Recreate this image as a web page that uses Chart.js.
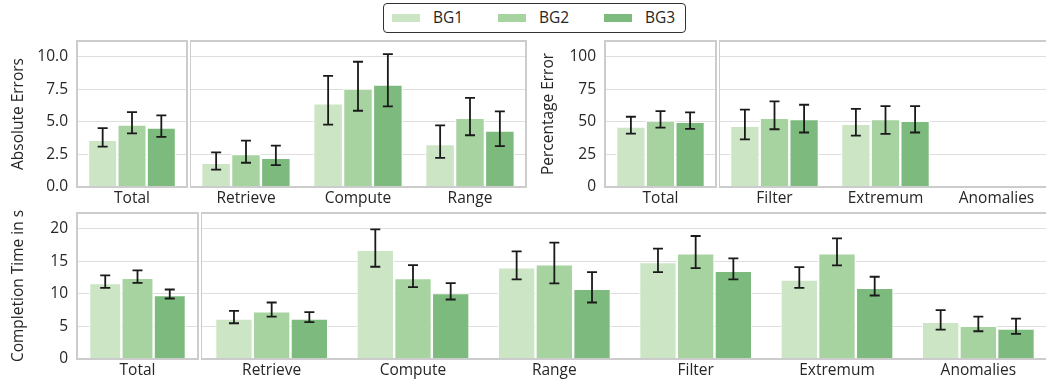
<!DOCTYPE html>
<html><head><meta charset="utf-8">
<script src="https://cdn.jsdelivr.net/npm/chart.js@4"></script>
<style>
body{margin:0;background:#fff;}
#wrap{position:relative;width:1046px;height:381px;overflow:hidden;font-family:"Open Sans",sans-serif;color:#262626;}
canvas{position:absolute;}
#legend{position:absolute;left:383px;top:3px;width:301px;height:28px;border:1px solid #333;border-radius:4px;}
.sw{position:absolute;top:10px;width:28px;height:8px;}
.lt{position:absolute;top:2px;font-size:15.5px;line-height:22px;color:#262626;}
</style></head>
<body><div id="wrap">
<div id="legend"></div>
</div>
<script>
// ---------- data ----------
const seriesNames = ['BG1', 'BG2', 'BG3'];
const seriesColors = ['#cbe5c5', '#a6d39f', '#7dba7d'];

// Absolute Errors
const absTicks = [0, 2.5, 5, 7.5, 10];
const absTotalMean = [3.63, 4.79, 4.56];
const absTotalLow  = [3.09, 4.12, 3.84];
const absTotalHigh = [4.51, 5.75, 5.49];
const absTasks = ['Retrieve', 'Compute', 'Range'];
const absBG1 = [1.86, 6.42, 3.30], absBG1Low = [1.34, 4.79, 2.24], absBG1High = [2.65, 8.53, 4.72];
const absBG2 = [2.53, 7.55, 5.31], absBG2Low = [1.86, 5.85, 3.97], absBG2High = [3.56, 9.61, 6.83];
const absBG3 = [2.24, 7.86, 4.33], absBG3Low = [1.68, 6.19, 3.14], absBG3High = [3.17, 10.2, 5.80];

// Percentage Error
const pctTicks = [0, 25, 50, 75, 100];
const pctTotalMean = [46.4, 51.0, 50.0];
const pctTotalLow  = [41.0, 45.6, 44.6];
const pctTotalHigh = [53.9, 58.2, 57.2];
const pctTasks = ['Filter', 'Extremum', 'Anomalies'];
const pctBG1 = [46.9, 48.5, 0], pctBG1Low = [36.6, 39.4, 0], pctBG1High = [59.3, 60.0, 0];
const pctBG2 = [53.1, 52.1, 0], pctBG2Low = [44.3, 40.7, 0], pctBG2High = [65.7, 62.1, 0];
const pctBG3 = [52.1, 50.8, 0], pctBG3Low = [41.8, 41.8, 0], pctBG3High = [63.1, 62.1, 0];

// Completion Time in s
const timeTicks = [0, 5, 10, 15, 20];
const timeTotalMean = [11.67, 12.49, 9.82];
const timeTotalLow  = [10.95, 11.72, 9.31];
const timeTotalHigh = [12.85, 13.62, 10.69];
const timeTasks = ['Retrieve', 'Compute', 'Range', 'Filter', 'Extremum', 'Anomalies'];
const timeBG1 = [6.22, 16.81, 14.09, 14.91, 12.24, 5.71];
const timeBG1Low = [5.50, 14.19, 12.24, 13.37, 10.95, 4.52];
const timeBG1High = [7.40, 19.95, 16.56, 16.97, 14.14, 7.51];
const timeBG2 = [7.35, 12.44, 14.55, 16.25, 16.25, 5.09];
const timeBG2Low = [6.53, 11.05, 11.62, 13.98, 14.40, 4.27];
const timeBG2High = [8.69, 14.45, 17.89, 18.92, 18.56, 6.53];
const timeBG3 = [6.22, 10.13, 10.80, 13.57, 10.95, 4.68];
const timeBG3Low = [5.66, 9.15, 8.69, 12.24, 9.77, 3.86];
const timeBG3High = [7.20, 11.67, 13.37, 15.48, 12.65, 6.22];

// ---------- legend ----------
const legend = document.getElementById('legend');
seriesNames.forEach((n, i) => {
  const sw = document.createElement('div');
  sw.className = 'sw'; sw.style.left = (8 + i * 106) + 'px'; sw.style.background = seriesColors[i];
  const t = document.createElement('div');
  t.className = 'lt'; t.style.left = (49 + i * 106) + 'px'; t.textContent = n;
  legend.appendChild(sw); legend.appendChild(t);
});

// ---------- plugins ----------
const boxPlugin = {
  id: 'box',
  afterDatasetsDraw(chart) {
    const a = chart.chartArea, ctx = chart.ctx;
    ctx.save();
    ctx.strokeStyle = '#cccccc'; ctx.lineWidth = 2;
    ctx.strokeRect(a.left, a.top, a.right - a.left, a.bottom - a.top);
    ctx.restore();
  }
};
const errPlugin = {
  id: 'err',
  afterDatasetsDraw(chart) {
    const ctx = chart.ctx, y = chart.scales.y;
    ctx.save();
    ctx.strokeStyle = '#1a1a1a'; ctx.lineWidth = 1.8;
    chart.data.datasets.forEach((ds, i) => {
      const meta = chart.getDatasetMeta(i);
      meta.data.forEach((el, j) => {
        const lo = ds.errLow[j], hi = ds.errHigh[j];
        if (lo === hi) return;
        const x = el.x, y1 = y.getPixelForValue(lo), y2 = y.getPixelForValue(hi);
        ctx.beginPath();
        ctx.moveTo(x, y1); ctx.lineTo(x, y2);
        ctx.moveTo(x - 5, y1); ctx.lineTo(x + 5, y1);
        ctx.moveTo(x - 5, y2); ctx.lineTo(x + 5, y2);
        ctx.stroke();
      });
    });
    ctx.restore();
  }
};

const FONT = { family: '"Open Sans", sans-serif', size: 15.5 };
const TXT = '#262626';
const wrap = document.getElementById('wrap');

function makeChart(o) {
  const PT = 3, PR = 2, XH = 30;
  const c = document.createElement('canvas');
  const w = o.yW + o.areaW + PR, h = PT + o.areaH + XH;
  c.width = w; c.height = h;
  c.style.width = w + 'px'; c.style.height = h + 'px';
  c.style.left = (o.areaLeft - o.yW) + 'px'; c.style.top = (o.areaTop - PT) + 'px';
  wrap.appendChild(c);
  const datasets = o.series.map((s, i) => ({
    label: seriesNames[i], data: s.mean, errLow: s.low, errHigh: s.high,
    backgroundColor: seriesColors[i], borderColor: '#ffffff', borderWidth: 1.2,
    categoryPercentage: 0.8, barPercentage: 1.0
  }));
  new Chart(c, {
    type: 'bar',
    data: { labels: o.labels, datasets },
    options: {
      responsive: false, animation: false, devicePixelRatio: 1,
      layout: { padding: { top: PT, right: PR, left: 0, bottom: 0 } },
      plugins: { legend: { display: false }, tooltip: { enabled: false } },
      scales: {
        x: {
          grid: { display: false, drawTicks: false }, border: { display: false },
          ticks: { font: FONT, color: TXT, padding: 2, maxRotation: 0, autoSkip: false },
          afterFit: s => { s.height = XH; s.paddingLeft = 0; s.paddingRight = 0; }
        },
        y: {
          min: 0, max: o.yMax,
          afterBuildTicks: ax => { ax.ticks = o.ticks.map(v => ({ value: v })); },
          grid: { color: '#dedede', lineWidth: 1, drawTicks: false }, border: { display: false },
          ticks: { display: o.showY, font: FONT, color: TXT, padding: 9, callback: o.fmt },
          title: { display: o.showY, text: o.title, font: FONT, color: TXT, padding: { top: 9, bottom: 0 } },
          afterFit: s => { s.width = o.yW; s.paddingTop = 0; s.paddingBottom = 0; }
        }
      }
    },
    plugins: [boxPlugin, errPlugin]
  });
}

const fmt1 = v => Number(v).toFixed(1);
const fmt0 = v => String(v);

// Absolute Errors
makeChart({ areaLeft: 77, areaTop: 41, areaW: 110, areaH: 146, yW: 77, showY: true, title: 'Absolute Errors',
  labels: ['Total'], yMax: 11.2, ticks: absTicks, fmt: fmt1,
  series: [0, 1, 2].map(i => ({ mean: [absTotalMean[i]], low: [absTotalLow[i]], high: [absTotalHigh[i]] })) });
makeChart({ areaLeft: 190, areaTop: 41, areaW: 336, areaH: 146, yW: 0, showY: false,
  labels: absTasks, yMax: 11.2, ticks: absTicks, fmt: fmt1,
  series: [
    { mean: absBG1, low: absBG1Low, high: absBG1High },
    { mean: absBG2, low: absBG2Low, high: absBG2High },
    { mean: absBG3, low: absBG3Low, high: absBG3High }] });

// Percentage Error
makeChart({ areaLeft: 605, areaTop: 41, areaW: 111, areaH: 146, yW: 75, showY: true, title: 'Percentage Error',
  labels: ['Total'], yMax: 112, ticks: pctTicks, fmt: fmt0,
  series: [0, 1, 2].map(i => ({ mean: [pctTotalMean[i]], low: [pctTotalLow[i]], high: [pctTotalHigh[i]] })) });
makeChart({ areaLeft: 719, areaTop: 41, areaW: 333, areaH: 146, yW: 0, showY: false,
  labels: pctTasks, yMax: 112, ticks: pctTicks, fmt: fmt0,
  series: [
    { mean: pctBG1, low: pctBG1Low, high: pctBG1High },
    { mean: pctBG2, low: pctBG2Low, high: pctBG2High },
    { mean: pctBG3, low: pctBG3Low, high: pctBG3High }] });

// Completion Time
makeChart({ areaLeft: 77, areaTop: 213, areaW: 121, areaH: 146, yW: 77, showY: true, title: 'Completion Time in s',
  labels: ['Total'], yMax: 22.46, ticks: timeTicks, fmt: fmt0,
  series: [0, 1, 2].map(i => ({ mean: [timeTotalMean[i]], low: [timeTotalLow[i]], high: [timeTotalHigh[i]] })) });
makeChart({ areaLeft: 201, areaTop: 213, areaW: 848, areaH: 146, yW: 0, showY: false,
  labels: timeTasks, yMax: 22.46, ticks: timeTicks, fmt: fmt0,
  series: [
    { mean: timeBG1, low: timeBG1Low, high: timeBG1High },
    { mean: timeBG2, low: timeBG2Low, high: timeBG2High },
    { mean: timeBG3, low: timeBG3Low, high: timeBG3High }] });
</script>
</body></html>
